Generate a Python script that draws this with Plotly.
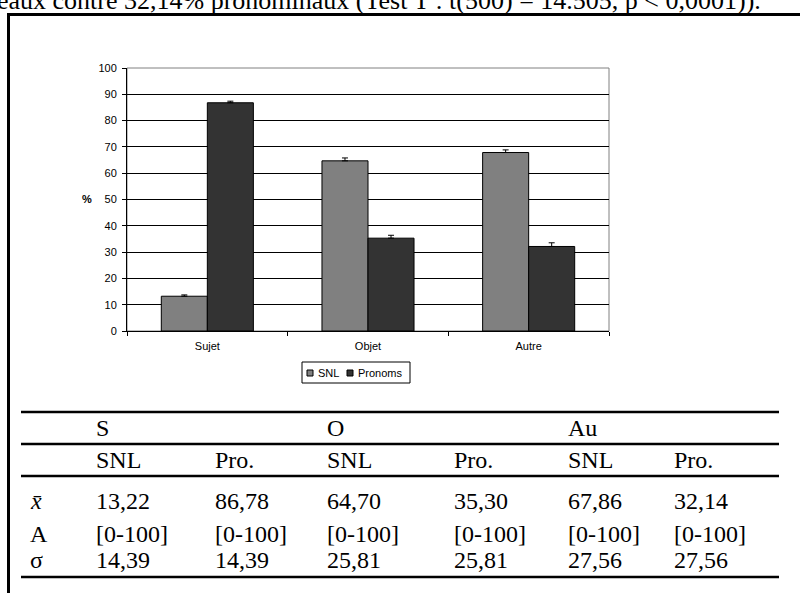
import plotly.graph_objects as go

# ---------------- data ----------------
categories = ["Sujet", "Objet", "Autre"]
series_names = ["SNL", "Pronoms"]
snl = [13.22, 64.70, 67.86]
pronoms = [86.78, 35.30, 32.14]
snl_err = [0.5, 1.1, 1.0]
pro_err = [0.6, 1.1, 1.4]
y_ticks = list(range(0, 101, 10))

tbl_groups = ["S", "O", "Au"]
tbl_sub = ["SNL", "Pro.", "SNL", "Pro.", "SNL", "Pro."]
tbl_row_labels = ["<i>x\u0304</i>", "A", "\u03c3"]
tbl_mean = ["13,22", "86,78", "64,70", "35,30", "67,86", "32,14"]
tbl_range = ["[0-100]"] * 6
tbl_sd = ["14,39", "14,39", "25,81", "25,81", "27,56", "27,56"]
caption = "eaux contre 32,14% pronominaux (Test T : t(500) = 14.505, p < 0,0001))."

# ---------------- geometry helpers (page pixels -> paper) ----------------
W, H = 800, 593
L, R, T, B = 127, 609, 68, 331


def px(x):
    return (x - L) / (R - L)


def py(y):
    return (B - y) / (B - T)


SANS = "Liberation Sans, Arial, sans-serif"
SERIF = "Liberation Serif, Times New Roman, serif"
COLORS = ["#808080", "#333333"]

fig = go.Figure()
for name, vals, errs, col in zip(series_names, [snl, pronoms], [snl_err, pro_err], COLORS):
    fig.add_trace(go.Bar(
        name=name, x=categories, y=vals, showlegend=False,
        marker=dict(color=col, line=dict(color="#000000", width=1)),
        error_y=dict(type="data", array=errs, arrayminus=[0] * len(errs),
                     symmetric=False, color="#000000", thickness=1, width=3),
    ))

shapes = []
annotations = []

# plot-area border (grey, Excel style)
shapes.append(dict(type="rect", xref="paper", yref="paper", x0=0, x1=1, y0=0, y1=1,
                   line=dict(color="#808080", width=1), layer="below"))

# outer frame of the page box
shapes.append(dict(type="line", xref="paper", yref="paper",
                   x0=px(7), x1=px(802), y0=py(14.5), y1=py(14.5),
                   line=dict(color="#000000", width=3)))
shapes.append(dict(type="line", xref="paper", yref="paper",
                   x0=px(8.5), x1=px(8.5), y0=py(13), y1=py(600),
                   line=dict(color="#000000", width=3)))

# legend (drawn manually to match the compact Excel legend)
shapes.append(dict(type="rect", xref="paper", yref="paper",
                   x0=px(302), x1=px(410), y0=py(383), y1=py(362),
                   line=dict(color="#000000", width=1), fillcolor="#ffffff"))
legend_sq_x = [307, 347]
legend_txt_x = [316, 356]
for name, col, sx, tx in zip(series_names, COLORS, legend_sq_x, legend_txt_x):
    shapes.append(dict(type="rect", xref="paper", yref="paper",
                       x0=px(sx), x1=px(sx + 6), y0=py(376), y1=py(370),
                       line=dict(color="#000000", width=1), fillcolor=col))
    annotations.append(dict(text=name, xref="paper", yref="paper", x=px(tx), y=py(372.5),
                            xanchor="left", yanchor="middle", showarrow=False,
                            font=dict(family=SANS, size=11, color="#000000")))

# table rules
for yline in [412, 444, 476, 577]:
    shapes.append(dict(type="line", xref="paper", yref="paper",
                       x0=px(21), x1=px(779), y0=py(yline), y1=py(yline),
                       line=dict(color="#000000", width=2.5)))

# caption text (cut at the top of the page, as in the scan)
annotations.append(dict(text=caption, xref="paper", yref="paper", x=px(763), y=py(0.5),
                        xanchor="right", yanchor="middle", showarrow=False,
                        font=dict(family=SERIF, size=26, color="#000000")))

# y axis title
annotations.append(dict(text="<b>%</b>", xref="paper", yref="paper", x=px(87), y=py(199),
                        xanchor="center", yanchor="middle", showarrow=False,
                        font=dict(family=SANS, size=11, color="#000000")))

# table text
col_x = [94, 213, 325, 452, 566, 672]
group_x = [col_x[0], col_x[2], col_x[4]]
row_y = [501, 534, 560]


def tbl_text(t, x, y):
    annotations.append(dict(text=t, xref="paper", yref="paper", x=px(x), y=py(y),
                            xanchor="left", yanchor="middle", showarrow=False,
                            font=dict(family=SERIF, size=24, color="#000000")))


for g, gx in zip(tbl_groups, group_x):
    tbl_text(g, gx, 428)
for s, sx in zip(tbl_sub, col_x):
    tbl_text(s, sx, 460)
for lab, ry in zip(tbl_row_labels, row_y):
    tbl_text(lab, 28, ry)
for vals, ry in zip([tbl_mean, tbl_range, tbl_sd], row_y):
    for v, vx in zip(vals, col_x):
        tbl_text(v, vx, ry)

fig.update_layout(
    width=W, height=H,
    margin=dict(l=L, r=W - R, t=T, b=H - B, pad=0),
    paper_bgcolor="#ffffff", plot_bgcolor="#ffffff",
    barmode="group", bargap=0.427, bargroupgap=0,
    font=dict(family=SANS, size=11, color="#000000"),
    showlegend=False,
    xaxis=dict(type="category", tickson="boundaries", ticks="outside", ticklen=4,
               tickcolor="#000000", showline=True, linecolor="#000000", linewidth=1,
               showgrid=False, ticklabelstandoff=5,
               tickfont=dict(family=SANS, size=11, color="#000000")),
    yaxis=dict(range=[0, 100], tickvals=y_ticks, ticks="outside", ticklen=4,
               tickcolor="#000000", showline=True, linecolor="#000000", linewidth=1,
               showgrid=True, gridcolor="#000000", gridwidth=1, zeroline=False,
               ticklabelstandoff=3,
               tickfont=dict(family=SANS, size=11, color="#000000")),
    shapes=shapes,
    annotations=annotations,
)

fig.write_html("out.html", config={"displayModeBar": False},
               post_script="document.body.style.margin='0';")
